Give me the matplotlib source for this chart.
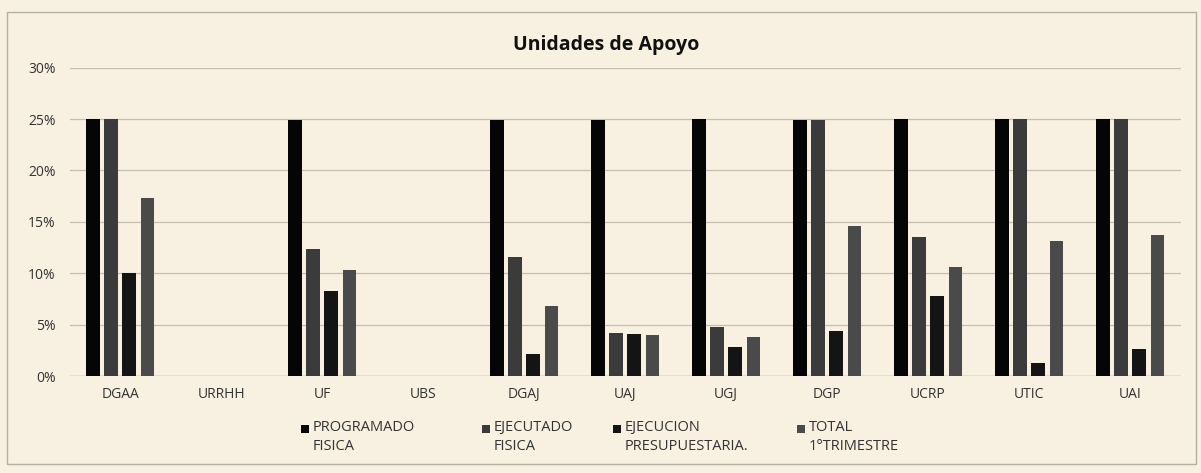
import matplotlib
matplotlib.use("Agg")
import matplotlib.pyplot as plt
import numpy as np
from matplotlib.patches import Rectangle
from matplotlib.ticker import PercentFormatter

categories = ["DGAA", "URRHH", "UF", "UBS", "DGAJ", "UAJ", "UGJ", "DGP", "UCRP", "UTIC", "UAI"]
programado_fisica = [25.0, 0, 24.9, 0, 24.9, 24.9, 25.0, 24.9, 25.0, 25.0, 25.0]
ejecutado_fisica = [25.0, 0, 12.4, 0, 11.6, 4.2, 4.8, 24.9, 13.5, 25.0, 25.0]
ejecucion_presup = [10.0, 0, 8.3, 0, 2.1, 4.1, 2.8, 4.4, 7.8, 1.3, 2.6]
total_trimestre = [17.3, 0, 10.3, 0, 6.8, 4.0, 3.8, 14.6, 10.6, 13.1, 13.7]
series_labels = ["PROGRAMADO\nFISICA", "EJECUTADO\nFISICA", "EJECUCION\nPRESUPUESTARIA.", "TOTAL\n1°TRIMESTRE"]
yticks = [0, 5, 10, 15, 20, 25, 30]

colors = ["#050505", "#3b3b3b", "#141414", "#4a4a4a"]
bg = "#f8f0e1"

plt.rcParams['font.family'] = ['Open Sans', 'DejaVu Sans']

W, H = 1201, 473
fig = plt.figure(figsize=(W / 100, H / 100), dpi=100, facecolor=bg)
ax = fig.add_axes([0.058, 0.205, 0.925, 0.652], facecolor=bg)

x = np.arange(len(categories))
step = 0.18
width = 0.135
series = [programado_fisica, ejecutado_fisica, ejecucion_presup, total_trimestre]
for i, (vals, c) in enumerate(zip(series, colors)):
    ax.bar(x + (i - 1.5) * step, vals, width=width, color=c, zorder=3)

ax.set_xlim(-0.5, len(categories) - 0.5)
ax.set_ylim(0, 30)
ax.set_yticks(yticks)
ax.yaxis.set_major_formatter(PercentFormatter(decimals=0))
ax.set_xticks(x)
ax.set_xticklabels(categories, fontsize=10, color="#333333")
ax.tick_params(axis='y', labelsize=10, colors="#333333", length=0, pad=10)
ax.tick_params(axis='x', length=0, pad=8)
ax.grid(axis='y', color="#c4beb3", linewidth=0.9, zorder=0)
for s in ax.spines.values():
    s.set_visible(False)
ax.axhline(0, color="#b8b2a8", linewidth=1, zorder=1)

fig.text(0.505, 0.905, "Unidades de Apoyo", ha='center', va='center', fontsize=14,
         fontweight='bold', color="#111111")

# legend drawn as patches + text (marker aligned with first line, as in the reference)
leg_x = [301, 482, 613, 797]
for lx, lab, c in zip(leg_x, series_labels, colors):
    fig.patches.append(Rectangle(((lx) / W, 1 - 433 / H), 8 / W, 8 / H,
                                 transform=fig.transFigure, facecolor=c, edgecolor='none'))
    fig.text((lx + 12) / W, 1 - 420 / H, lab, ha='left', va='top', fontsize=10.5,
             color="#333333", linespacing=1.35)

fig.patches.append(Rectangle((0.006, 0.02), 0.99, 0.955, transform=fig.transFigure,
                             fill=False, edgecolor="#b5b0a6", linewidth=1))

fig.savefig("out.png", dpi=100, facecolor=bg)
